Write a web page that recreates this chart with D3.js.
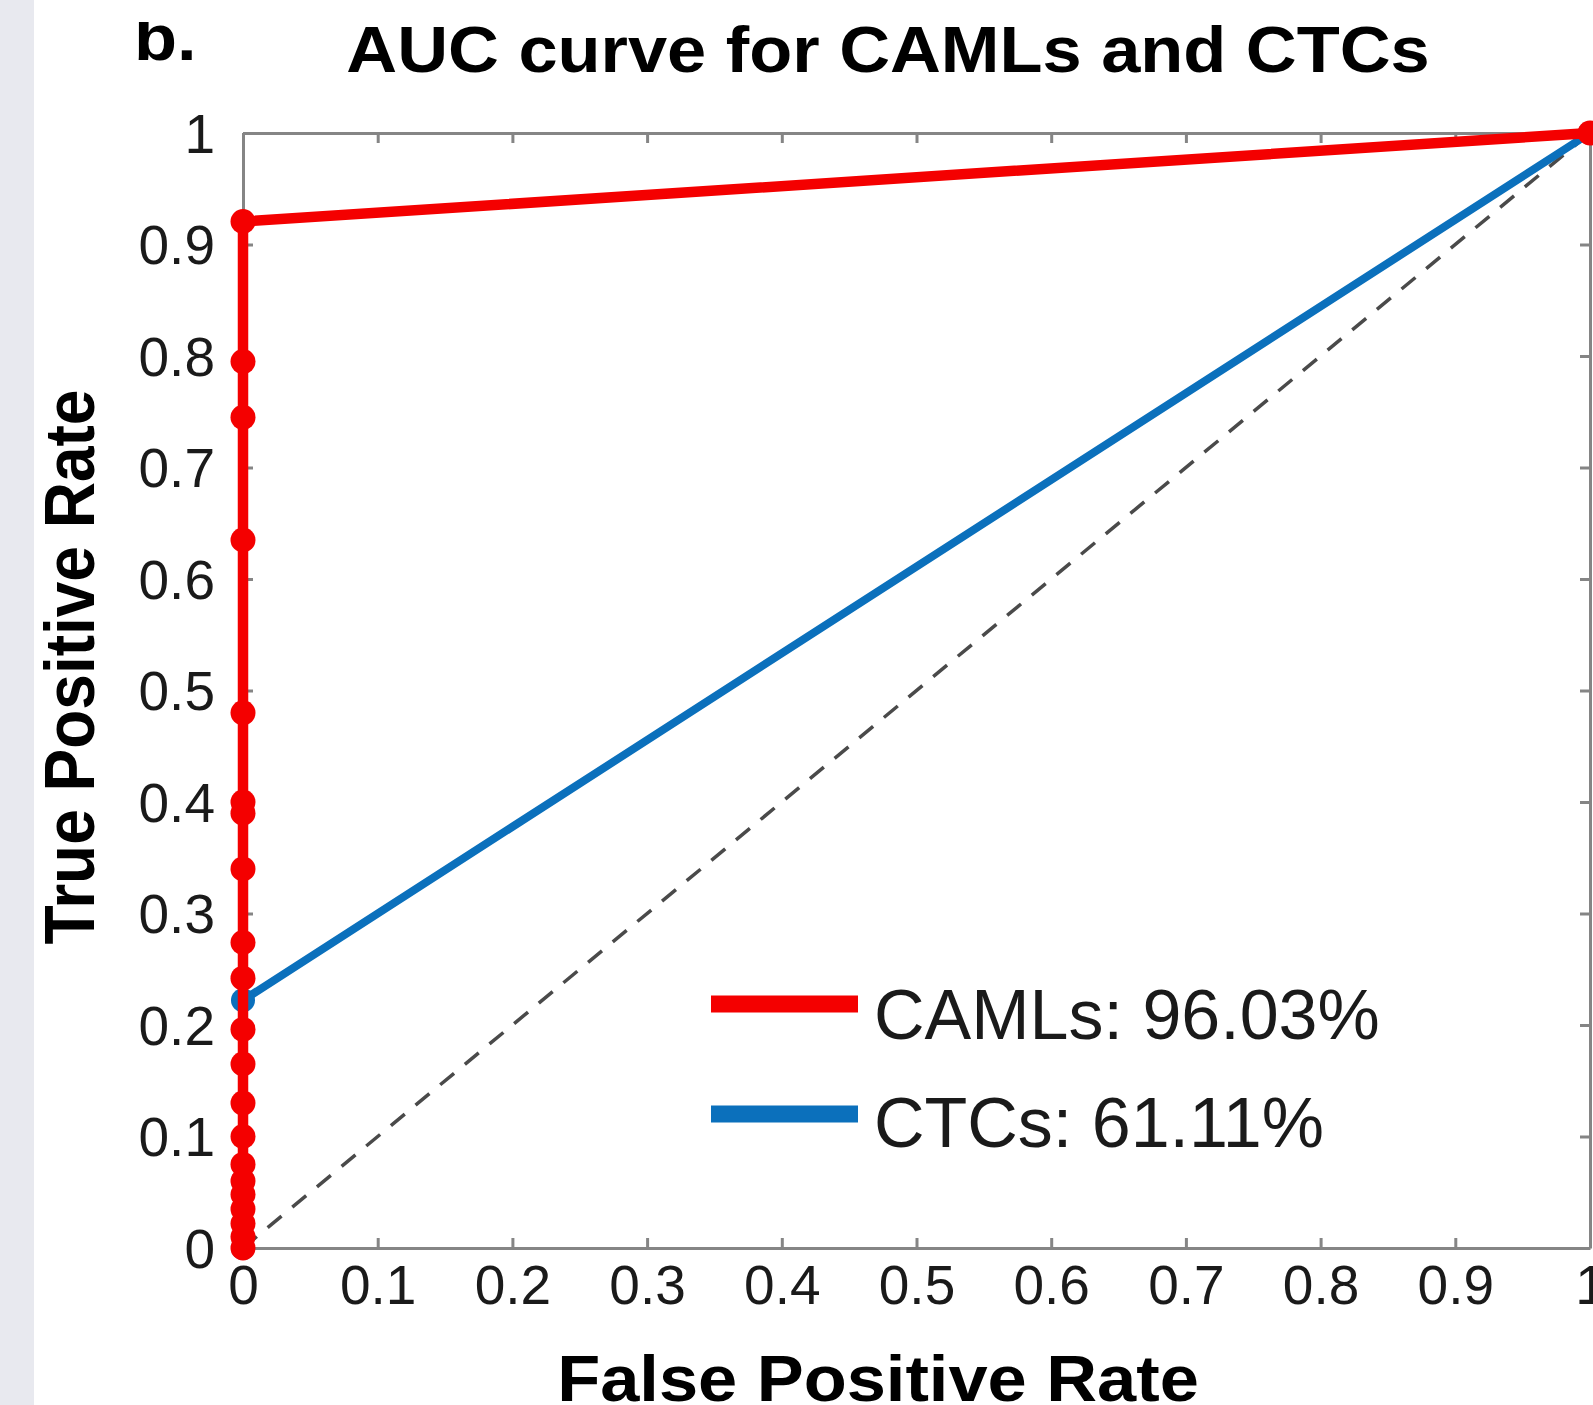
<!DOCTYPE html>
<html><head><meta charset="utf-8">
<script src="https://cdn.jsdelivr.net/npm/d3@7"></script>
<style>
html,body{margin:0;padding:0;background:#fff;}
text{font-family:"Liberation Sans",Arial,sans-serif;}
</style></head>
<body>
<svg id="chart" width="1593" height="1405"></svg>
<script>
// ---- data ----
const xTicks = [0,0.1,0.2,0.3,0.4,0.5,0.6,0.7,0.8,0.9,1];
const yTicks = [0,0.1,0.2,0.3,0.4,0.5,0.6,0.7,0.8,0.9,1];
const tickLabels = ["0","0.1","0.2","0.3","0.4","0.5","0.6","0.7","0.8","0.9","1"];
const camlFPR = [0,0,0,0,0,0,0,0,0,0,0,0,0,0,0,0,0,0,0,0,0,1];
const camlTPR = [0,0.01,0.022,0.035,0.048,0.06,0.075,0.1,0.13,0.165,0.196,0.242,0.274,0.34,0.39,0.40,0.48,0.635,0.745,0.795,0.9206,1];
const ctcFPR = [0,0,0,1];
const ctcTPR = [0,0.06,0.2222,1];
const chanceX = [0,1];
const chanceY = [0,1];
const seriesNames = ["CAMLs: 96.03%","CTCs: 61.11%"];
const seriesColors = ["#f40000","#0b70bc"];
const titleText = "AUC curve for CAMLs and CTCs";
const panelLabel = "b.";
const xLabel = "False Positive Rate";
const yLabel = "True Positive Rate";

// ---- layout ----
const SX = 1.1; // horizontal stretch of bold labels in the source image
const L = 243, R = 1590, T = 133, B = 1248;
const svg = d3.select("#chart");
svg.append("rect").attr("x",0).attr("y",0).attr("width",34).attr("height",1405).attr("fill","#e8e9ef");

const x = d3.scaleLinear().domain([0,1]).range([L,R]);
const y = d3.scaleLinear().domain([0,1]).range([B,T]);
const axisColor = "#858585";

function styleAxis(g){
  g.select(".domain").attr("stroke",axisColor).attr("stroke-width",3);
  g.selectAll(".tick line").attr("stroke",axisColor).attr("stroke-width",3);
}
// bottom
const gb = svg.append("g").attr("transform",`translate(0,${B})`)
  .call(d3.axisBottom(x).tickValues(xTicks).tickSize(-10).tickSizeOuter(0).tickFormat((d,i)=>tickLabels[i]));
styleAxis(gb);
gb.selectAll(".tick text").attr("y",0).attr("dy",null)
  .attr("transform","translate(0,56)")
  .attr("font-size",55).attr("fill","#1a1a1a");
// top
const gt = svg.append("g").attr("transform",`translate(0,${T})`)
  .call(d3.axisTop(x).tickValues(xTicks).tickSize(-10).tickSizeOuter(0).tickFormat(""));
styleAxis(gt);
// left
const gl = svg.append("g").attr("transform",`translate(${L},0)`)
  .call(d3.axisLeft(y).tickValues(yTicks).tickSize(-10).tickSizeOuter(0).tickFormat((d,i)=>tickLabels[i]));
styleAxis(gl);
gl.selectAll(".tick text").attr("x",0).attr("dy",null).attr("y",0)
  .attr("text-anchor","end")
  .attr("transform","translate(-28,19)")
  .attr("font-size",55).attr("fill","#1a1a1a");
// right
const gr = svg.append("g").attr("transform",`translate(${R},0)`)
  .call(d3.axisRight(y).tickValues(yTicks).tickSize(-10).tickSizeOuter(0).tickFormat(""));
styleAxis(gr);

// chance line
const line = d3.line().x(d=>x(d[0])).y(d=>y(d[1]));
svg.append("path").datum(d3.zip(chanceX,chanceY)).attr("d",line)
  .attr("fill","none").attr("stroke","#4a4a4a").attr("stroke-width",3.5)
  .attr("stroke-dasharray","18,14");

// CTC curve
const ctcPts = d3.zip(ctcFPR,ctcTPR);
svg.append("path").datum(ctcPts).attr("d",line)
  .attr("fill","none").attr("stroke",seriesColors[1]).attr("stroke-width",8);
svg.append("g").selectAll("circle").data(ctcPts).join("circle")
  .attr("cx",d=>x(d[0])).attr("cy",d=>y(d[1])).attr("r",12).attr("fill",seriesColors[1]);

// CAML curve
const camlPts = d3.zip(camlFPR,camlTPR);
svg.append("path").datum(camlPts).attr("d",line)
  .attr("fill","none").attr("stroke",seriesColors[0]).attr("stroke-width",10.5);
svg.append("g").selectAll("circle").data(camlPts).join("circle")
  .attr("cx",d=>x(d[0])).attr("cy",d=>y(d[1])).attr("r",12.5).attr("fill",seriesColors[0]);

// legend
const legY = [1004,1114];
const legTextY = [1039,1147];
seriesNames.forEach((name,i)=>{
  svg.append("line").attr("x1",711).attr("x2",858).attr("y1",legY[i]).attr("y2",legY[i])
    .attr("stroke",seriesColors[i]).attr("stroke-width",17);
  svg.append("text").attr("transform",`translate(874,${legTextY[i]})`)
    .attr("font-size",70).attr("fill","#1a1a1a").text(name);
});

// title & labels
svg.append("text").attr("transform",`translate(888,72) scale(${SX},1)`)
  .attr("text-anchor","middle").attr("font-size",64).attr("font-weight","bold").attr("fill","#000").text(titleText);
svg.append("clipPath").attr("id","clipb").append("rect").attr("x",0).attr("y",22).attr("width",400).attr("height",100);
svg.append("g").attr("clip-path","url(#clipb)")
  .append("text")
  .attr("transform",`translate(134,60) scale(${SX},1)`)
  .attr("font-size",64).attr("font-weight","bold").attr("fill","#000").text(panelLabel);
svg.append("text").attr("transform",`translate(878,1401) scale(${SX},1)`)
  .attr("text-anchor","middle").attr("font-size",64).attr("font-weight","bold").attr("fill","#000").text(xLabel);
svg.append("text").attr("transform",`translate(94,667) scale(${SX},1) rotate(-90)`)
  .attr("text-anchor","middle").attr("font-size",64).attr("font-weight","bold").attr("fill","#000").text(yLabel);
</script>
</body></html>
